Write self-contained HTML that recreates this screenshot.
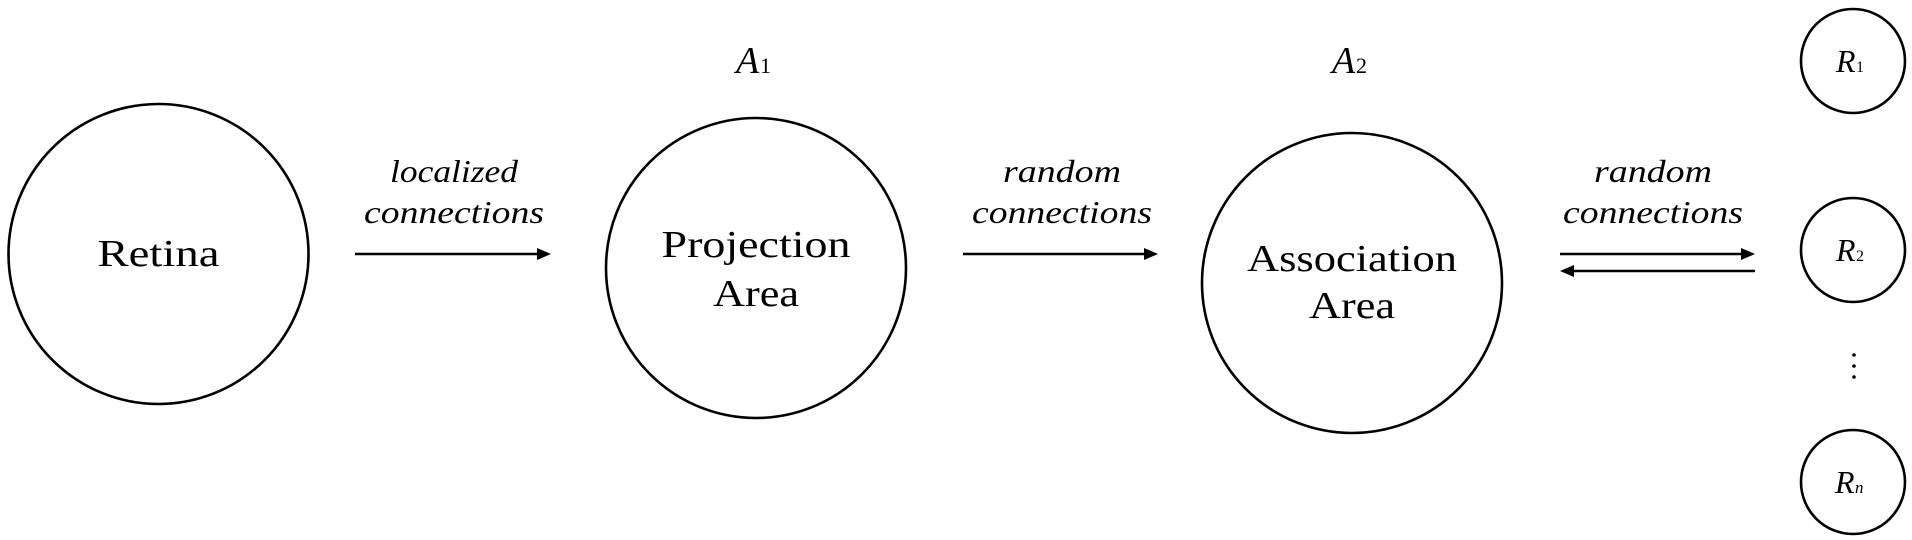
<!DOCTYPE html>
<html><head><meta charset="utf-8"><style>
html,body{margin:0;padding:0;background:#fff;}
svg{display:block;}
text{font-family:"Liberation Serif",serif;fill:#000;}
</style></head><body>
<svg width="1912" height="540" viewBox="0 0 1912 540" xmlns="http://www.w3.org/2000/svg">
<g fill="none" stroke="#000" stroke-width="2.6">
<circle cx="158.5" cy="254" r="150"/>
<circle cx="756" cy="268" r="150"/>
<circle cx="1352" cy="283" r="150"/>
<circle cx="1853" cy="61" r="52"/>
<circle cx="1853" cy="250" r="52"/>
<circle cx="1853" cy="482" r="52"/>
</g>
<g stroke="#000" stroke-width="2.6">
<line x1="355" y1="254" x2="540" y2="254"/>
<line x1="963" y1="254" x2="1146" y2="254"/>
<line x1="1560" y1="254" x2="1744" y2="254"/>
<line x1="1571" y1="271" x2="1755" y2="271"/>
</g>
<g fill="#000">
<path d="M537,248 L551,254 L537,260 Z"/>
<path d="M1144,248 L1158,254 L1144,260 Z"/>
<path d="M1741,248 L1755,254 L1741,260 Z"/>
<path d="M1574,265 L1560,271 L1574,277 Z"/>
<circle cx="1854" cy="355" r="1.8"/>
<circle cx="1854" cy="366" r="1.8"/>
<circle cx="1854" cy="377" r="1.8"/>
</g>
<g font-size="38" text-anchor="middle">
<text x="158.5" y="266" textLength="122" lengthAdjust="spacingAndGlyphs">Retina</text>
<text x="756" y="257" textLength="189" lengthAdjust="spacingAndGlyphs">Projection</text>
<text x="756" y="306" textLength="86" lengthAdjust="spacingAndGlyphs">Area</text>
<text x="1352" y="271" textLength="210" lengthAdjust="spacingAndGlyphs">Association</text>
<text x="1352" y="318" textLength="86" lengthAdjust="spacingAndGlyphs">Area</text>
</g>
<g font-size="32" font-style="italic" text-anchor="middle">
<text x="454" y="182" textLength="128" lengthAdjust="spacingAndGlyphs">localized</text>
<text x="454" y="223" textLength="180" lengthAdjust="spacingAndGlyphs">connections</text>
<text x="1062" y="182" textLength="118" lengthAdjust="spacingAndGlyphs">random</text>
<text x="1062" y="223" textLength="180" lengthAdjust="spacingAndGlyphs">connections</text>
<text x="1653" y="182" textLength="118" lengthAdjust="spacingAndGlyphs">random</text>
<text x="1653" y="223" textLength="180" lengthAdjust="spacingAndGlyphs">connections</text>
</g>
<g font-style="italic">
<text x="736" y="73" font-size="38">A</text><text x="760" y="73" font-size="22" font-style="normal">1</text>
<text x="1332" y="73" font-size="38">A</text><text x="1356" y="73" font-size="22" font-style="normal">2</text>
<text x="1836" y="72" font-size="32">R</text><text x="1856" y="72" font-size="16" font-style="normal">1</text>
<text x="1836" y="261" font-size="32">R</text><text x="1856" y="261" font-size="16" font-style="normal">2</text>
<text x="1835" y="493" font-size="32">R</text><text x="1855" y="493" font-size="17">n</text>
</g>
</svg>
</body></html>
